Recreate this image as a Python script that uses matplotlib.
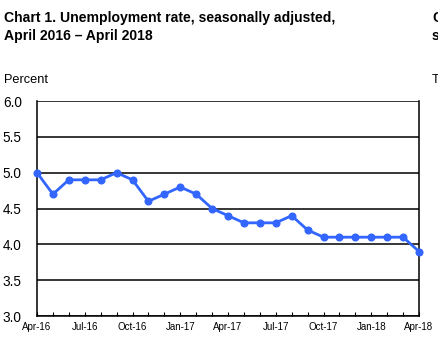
import matplotlib.pyplot as plt

plt.rcParams['font.family'] = ['Liberation Sans', 'DejaVu Sans']

months = ["Apr-16", "May-16", "Jun-16", "Jul-16", "Aug-16", "Sep-16", "Oct-16",
          "Nov-16", "Dec-16", "Jan-17", "Feb-17", "Mar-17", "Apr-17", "May-17",
          "Jun-17", "Jul-17", "Aug-17", "Sep-17", "Oct-17", "Nov-17", "Dec-17",
          "Jan-18", "Feb-18", "Mar-18", "Apr-18"]
rate = [5.0, 4.7, 4.9, 4.9, 4.9, 5.0, 4.9, 4.6, 4.7, 4.8, 4.7, 4.5, 4.4,
        4.3, 4.3, 4.3, 4.4, 4.2, 4.1, 4.1, 4.1, 4.1, 4.1, 4.1, 3.9]
yticks = [3.0, 3.5, 4.0, 4.5, 5.0, 5.5, 6.0]

W, H = 438, 351
fig = plt.figure(figsize=(W / 100, H / 100), dpi=100)
ax = fig.add_axes([37 / W, (H - 316) / H, (419 - 37) / W, (316 - 101) / H])

x = list(range(len(months)))
ax.plot(x, rate, color='#3366ff', lw=2, marker='o', ms=4.8, zorder=3, clip_on=False)

ax.set_xlim(0, len(months) - 1)
ax.set_ylim(3.0, 6.0)
ax.set_yticks(yticks)
ax.set_yticklabels([f"{v:.1f}" for v in yticks], fontsize=9.8)
ax.yaxis.grid(True, color='black', lw=1.1)
ax.tick_params(axis='y', length=0, pad=11)
ax.set_xticks(x, minor=True)
ax.set_xticks(x[::3])
ax.set_xticklabels(months[::3], fontsize=7)
ax.tick_params(axis='x', which='both', direction='in', length=3, width=0.8, pad=4)
ax.set_axisbelow(True)
for s in ax.spines.values():
    s.set_linewidth(1.1)
ax.spines['top'].set_visible(False)

fig.text(4 / W, 1 - 18 / H, "Chart 1. Unemployment rate, seasonally adjusted,",
         fontsize=10.1, fontweight='bold', va='center')
fig.text(4 / W, 1 - 36 / H, "April 2016 \u2013 April 2018",
         fontsize=10.1, fontweight='bold', va='center')
fig.text(4 / W, 1 - 80 / H, "Percent", fontsize=9.2, va='center')

# edges of the neighbouring chart, cut off as in the original
fig.text(432 / W, 1 - 18 / H, "C", fontsize=10.1, fontweight='bold', va='center')
fig.text(432 / W, 1 - 36 / H, "s", fontsize=10.1, fontweight='bold', va='center')
fig.text(432 / W, 1 - 80 / H, "T", fontsize=9.2, va='center')

fig.savefig("out.png", dpi=100)
